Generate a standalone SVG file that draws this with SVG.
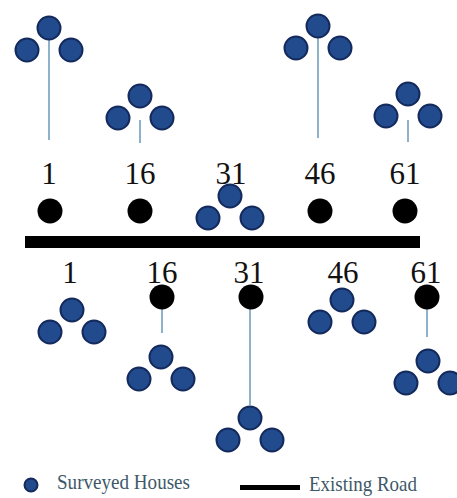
<svg xmlns="http://www.w3.org/2000/svg" width="457" height="498" viewBox="0 0 457 498">
<defs>
<style>
.h{fill:#214b8c;stroke:#142a5c;stroke-width:2}
.d{fill:#000}
.c{stroke:#8fb2cc;stroke-width:2;fill:none}
.n{font-family:"Liberation Serif",serif;font-size:31px;fill:#111;text-anchor:middle}
.l{font-family:"Liberation Serif",serif;font-size:21px;fill:#3e5868}
</style>
<g id="tri"><circle class="h" cx="0" cy="-22" r="11.5"/><circle class="h" cx="-22" cy="0" r="11.5"/><circle class="h" cx="22" cy="0" r="11.5"/></g>
</defs>
<rect width="457" height="498" fill="#fff"/>
<g id="connectors">
<line class="c" x1="49" y1="40" x2="49" y2="140"/>
<line class="c" x1="140" y1="120" x2="140" y2="143"/>
<line class="c" x1="318" y1="38" x2="318" y2="138"/>
<line class="c" x1="408" y1="120" x2="408" y2="142"/>
<line class="c" x1="162" y1="309" x2="162" y2="333"/>
<line class="c" x1="250" y1="309" x2="250" y2="405"/>
<line class="c" x1="427" y1="309" x2="427" y2="337"/>
</g>
<g id="road"><rect x="25" y="236" width="395" height="12" fill="#000"/></g>
<g id="top-1"><use href="#tri" x="49" y="50"/><text class="n" x="49" y="184">1</text><circle class="d" cx="50" cy="211" r="12.5"/></g>
<g id="top-16"><use href="#tri" x="140" y="118"/><text class="n" x="140" y="184">16</text><circle class="d" cx="140" cy="211" r="12.5"/></g>
<g id="top-31"><text class="n" x="231" y="184">31</text><use href="#tri" x="230" y="218"/></g>
<g id="top-46"><use href="#tri" x="318" y="48"/><text class="n" x="320" y="184">46</text><circle class="d" cx="320" cy="211" r="12.5"/></g>
<g id="top-61"><use href="#tri" x="408" y="116"/><text class="n" x="405" y="184">61</text><circle class="d" cx="405" cy="211" r="12.5"/></g>
<g id="bot-1"><text class="n" x="70" y="283">1</text><use href="#tri" x="72" y="332"/></g>
<g id="bot-16"><text class="n" x="162" y="283">16</text><circle class="d" cx="162" cy="297" r="12.5"/><use href="#tri" x="161" y="379"/></g>
<g id="bot-31"><text class="n" x="249" y="283">31</text><circle class="d" cx="251" cy="297" r="12.5"/><use href="#tri" x="250" y="440"/></g>
<g id="bot-46"><text class="n" x="343" y="283">46</text><use href="#tri" x="342" y="322"/></g>
<g id="bot-61"><text class="n" x="426" y="283">61</text><circle class="d" cx="427" cy="297" r="12.5"/><use href="#tri" x="428" y="383"/></g>
<g id="legend">
<circle class="h" cx="31" cy="485" r="6.5"/>
<text class="l" x="57" y="489" textLength="133" lengthAdjust="spacingAndGlyphs">Surveyed Houses</text>
<rect x="240" y="485" width="60" height="5" fill="#000"/>
<text class="l" x="309" y="491" textLength="108" lengthAdjust="spacingAndGlyphs">Existing Road</text>
</g>
</svg>
